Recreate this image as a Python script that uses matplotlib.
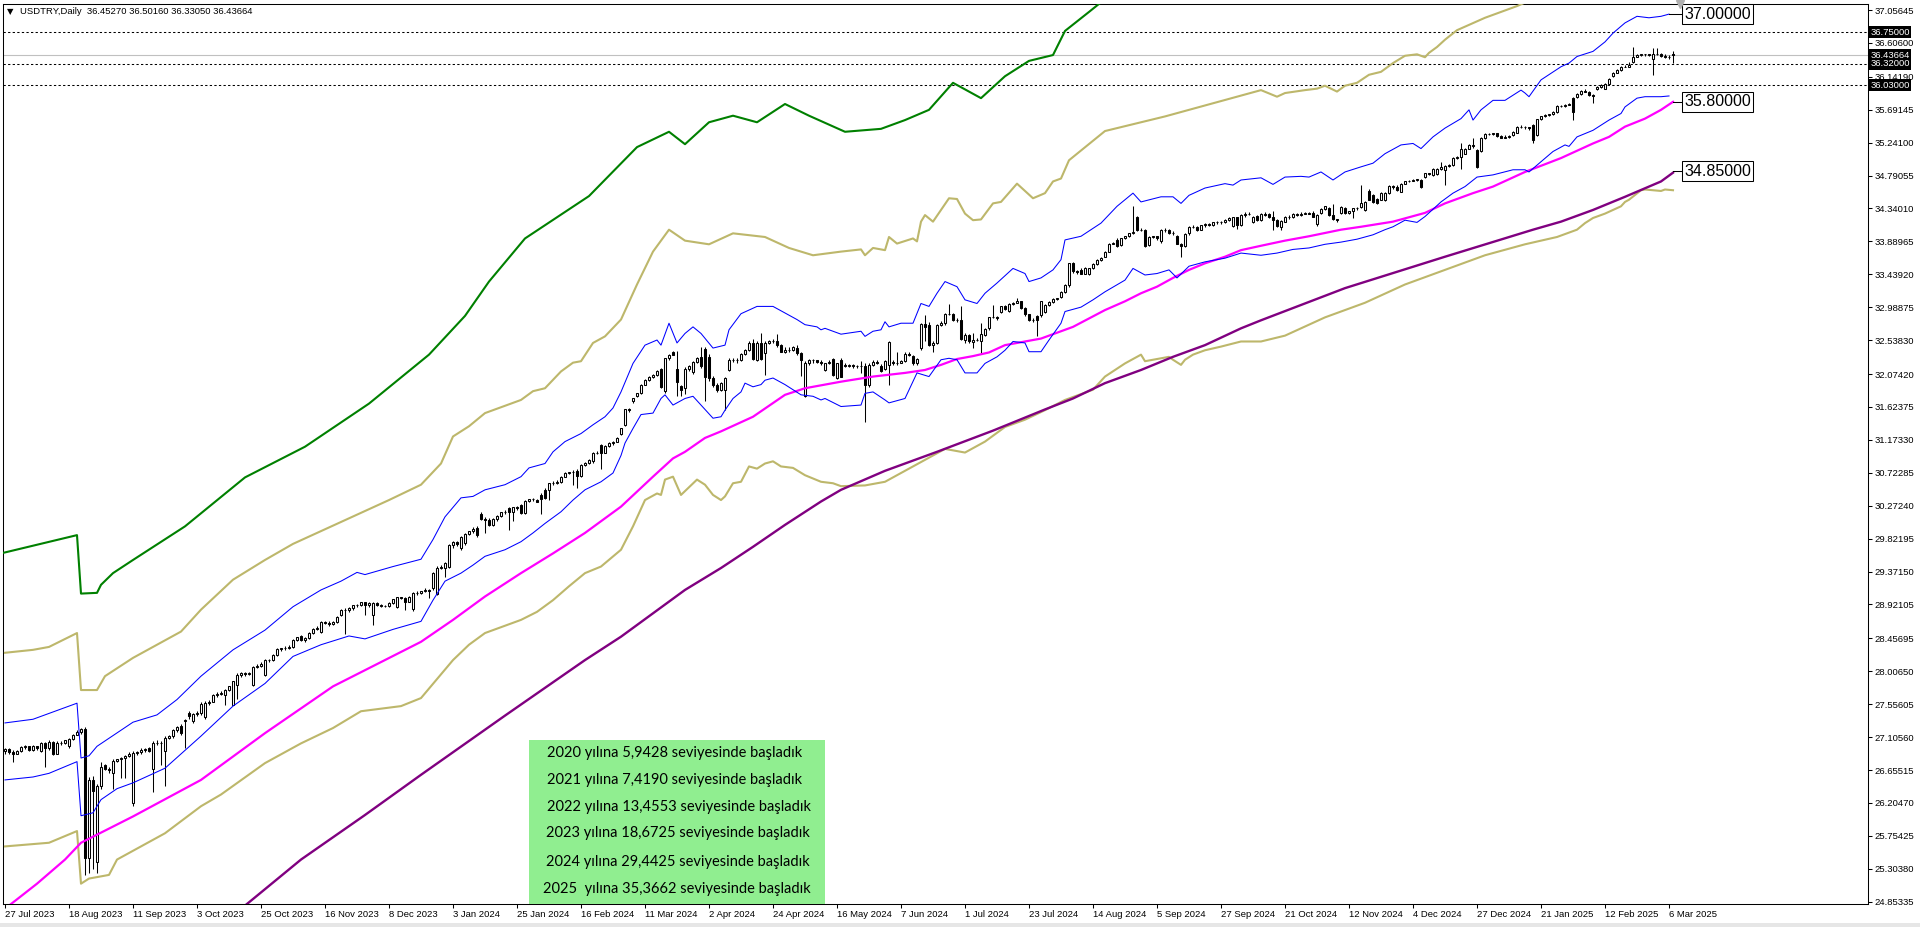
import numpy as np
import matplotlib.pyplot as plt
from matplotlib import font_manager as fm
from matplotlib.transforms import blended_transform_factory

# USDTRY gunluk mumlar: bar 0 = 27 Tem 2023, son bar = 11 Mar 2025
opens = [
    26.92, 26.94, 26.90, 26.88, 26.91, 26.97, 26.98, 26.93, 26.98, 26.92,
    27.02, 26.95, 27.04, 26.88, 27.03, 27.02, 26.98, 27.08, 27.14, 27.18,
    27.22, 25.45, 26.52, 25.40, 26.43, 26.72, 26.67, 26.62, 26.78, 26.80,
    26.82, 26.85, 26.20, 26.89, 26.90, 26.93, 26.96, 26.67, 27.03, 27.02,
    26.92, 27.10, 27.12, 27.20, 27.26, 27.32, 27.44, 27.32, 27.42, 27.43,
    27.38, 27.57, 27.59, 27.68, 27.70, 27.68, 27.75, 27.55, 27.82, 27.95,
    27.98, 27.97, 27.82, 28.07, 28.08, 27.96, 28.16, 28.16, 28.23, 28.31,
    28.32, 28.33, 28.34, 28.43, 28.49, 28.43, 28.46, 28.53, 28.59, 28.55,
    28.68, 28.67, 28.66, 28.68, 28.78, 28.85, 28.84, 28.87, 28.91, 28.91,
    28.95, 28.91, 28.78, 28.94, 28.91, 28.90, 28.90, 28.94, 28.89, 29.02,
    29.01, 28.96, 28.86, 29.08,
    29.08, 29.11, 29.12, 29.14, 29.07, 29.42, 29.42, 29.44, 29.73, 29.78,
    29.69, 29.76, 29.89, 29.92, 29.97, 30.16, 30.09, 30.08, 30.01, 30.09,
    30.13, 30.18, 30.24, 30.18, 30.25, 30.28, 30.17, 30.34, 30.36, 30.35,
    30.42, 30.49, 30.49, 30.58, 30.58, 30.60, 30.67, 30.72, 30.73, 30.75,
    30.68, 30.83, 30.86, 30.88, 31.00, 31.10, 31.00, 31.09, 31.13, 31.15,
    31.26, 31.38, 31.59, 31.70, 31.77, 31.81, 31.93, 31.99, 32.04, 32.06,
    32.14, 31.84, 32.29, 32.37, 32.15, 31.91, 31.88, 32.15, 32.10, 32.24,
    32.31, 32.42, 32.31, 32.02, 31.93, 31.86, 31.86, 32.13, 32.27, 32.27,
    32.26, 32.35, 32.41, 32.50, 32.27, 32.50, 32.36, 32.50, 32.52, 32.53,
    32.47, 32.38, 32.41, 32.40, 32.43, 32.36, 31.77, 32.22, 32.26, 32.26,
    32.24, 32.13, 32.22, 32.28, 32.02,
    32.27, 32.20, 32.19, 32.20, 32.18, 32.18, 32.19, 31.93, 32.20, 32.24,
    32.19, 32.15, 32.20, 32.24, 32.22, 32.23, 32.25, 32.35, 32.32, 32.22,
    32.43, 32.76, 32.75, 32.47, 32.50, 32.75, 32.77, 32.90, 32.89, 32.81,
    32.82, 32.54, 32.61, 32.51, 32.54, 32.52, 32.61, 32.70, 32.86, 32.85,
    32.93, 33.00, 32.94, 33.03, 33.05, 33.07, 32.98, 32.89, 32.81, 32.87,
    32.88, 32.93, 33.02, 33.06, 33.10, 33.13, 33.20, 33.29, 33.59, 33.48,
    33.50, 33.45, 33.45, 33.52, 33.58, 33.64, 33.68, 33.75, 33.86, 33.91,
    33.84, 33.93, 33.96, 34.00, 34.22, 34.05, 34.05, 33.84, 33.95, 33.96,
    33.89, 34.05, 34.04, 34.00, 33.96, 33.86, 33.83, 34.00, 34.09, 34.09,
    34.05, 34.11, 34.13, 34.11, 34.15, 34.16, 34.15, 34.18, 34.10, 34.22,
    34.11, 34.25, 34.27, 34.16, 34.24,
    34.18, 34.27, 34.27, 34.22, 34.18, 34.09, 34.16, 34.23, 34.22, 34.27,
    34.25, 34.27, 34.28, 34.28, 34.13, 34.28, 34.33, 34.34, 34.25, 34.19,
    34.28, 34.34, 34.28, 34.30, 34.34, 34.36, 34.32, 34.58, 34.52, 34.47,
    34.46, 34.46, 34.55, 34.65, 34.64, 34.57, 34.68, 34.71, 34.72, 34.73,
    34.73, 34.77, 34.82, 34.80, 34.81, 34.88, 34.87, 34.92, 34.93, 35.03,
    35.05, 35.09, 35.16, 35.21, 35.14, 35.13, 35.30, 35.36, 35.36, 35.37,
    35.33, 35.31, 35.32, 35.34, 35.38, 35.46, 35.46, 35.45, 35.48, 35.35,
    35.56, 35.60, 35.62, 35.63, 35.66, 35.74, 35.74, 35.76, 35.85, 35.86,
    35.91, 35.95, 35.94, 35.89, 35.97, 36.00, 35.98, 36.05, 36.15, 36.20,
    36.23, 36.28, 36.28, 36.34, 36.42, 36.44, 36.45, 36.45, 36.38, 36.46,
    36.46, 36.43, 36.42, 36.4527,
]
highs = [
    26.96, 26.95, 26.93, 26.93, 26.99, 27.00, 26.99, 27.00, 26.99, 27.04,
    27.04, 27.06, 27.05, 27.05, 27.05, 27.07, 27.10, 27.15, 27.20, 27.23,
    27.24, 26.56, 26.58, 26.46, 26.77, 26.74, 26.70, 26.80, 26.81, 26.84,
    26.86, 26.90, 26.92, 26.92, 26.95, 26.96, 26.97, 27.05, 27.06, 27.05,
    27.12, 27.14, 27.22, 27.26, 27.28, 27.36, 27.46, 27.44, 27.46, 27.58,
    27.60, 27.61, 27.70, 27.72, 27.73, 27.77, 27.81, 27.88, 27.98, 28.00,
    28.00, 28.00, 28.08, 28.10, 28.13, 28.18, 28.18, 28.25, 28.32, 28.33,
    28.35, 28.36, 28.45, 28.48, 28.51, 28.47, 28.55, 28.60, 28.62, 28.70,
    28.70, 28.69, 28.70, 28.77, 28.86, 28.87, 28.88, 28.92, 28.93, 28.96,
    28.96, 28.95, 28.95, 28.95, 28.93, 28.92, 28.95, 29.00, 29.03, 29.03,
    29.02, 29.04, 29.09, 29.10,
    29.11, 29.14, 29.13, 29.37, 29.45, 29.46, 29.50, 29.75, 29.79, 29.79,
    29.86, 29.90, 29.93, 29.98, 29.99, 30.18, 30.12, 30.10, 30.10, 30.14,
    30.19, 30.21, 30.26, 30.26, 30.27, 30.30, 30.35, 30.37, 30.38, 30.37,
    30.44, 30.52, 30.59, 30.61, 30.63, 30.68, 30.73, 30.74, 30.76, 30.77,
    30.84, 30.87, 30.91, 31.01, 31.02, 31.12, 31.10, 31.14, 31.16, 31.21,
    31.34, 31.60, 31.61, 31.75, 31.82, 31.94, 32.00, 32.05, 32.07, 32.13,
    32.16, 32.30, 32.35, 32.39, 32.39, 31.93, 32.17, 32.20, 32.25, 32.31,
    32.45, 32.45, 32.35, 32.05, 31.95, 31.97, 32.04, 32.30, 32.30, 32.29,
    32.36, 32.42, 32.52, 32.55, 32.52, 32.64, 32.52, 32.54, 32.56, 32.62,
    32.49, 32.44, 32.44, 32.46, 32.47, 32.38, 32.25, 32.28, 32.28, 32.27,
    32.26, 32.23, 32.26, 32.30, 32.23,
    32.29, 32.22, 32.21, 32.21, 32.20, 32.25, 32.22, 32.22, 32.26, 32.26,
    32.21, 32.26, 32.52, 32.27, 32.38, 32.27, 32.37, 32.37, 32.34, 32.30,
    32.77, 32.88, 32.78, 32.52, 32.76, 32.80, 32.91, 33.03, 32.91, 32.84,
    33.00, 32.63, 32.62, 32.64, 32.57, 32.77, 32.70, 32.86, 33.02, 32.87,
    33.01, 33.02, 33.04, 33.06, 33.11, 33.08, 32.99, 32.90, 32.84, 32.88,
    33.08, 33.03, 33.08, 33.11, 33.12, 33.21, 33.30, 33.60, 33.61, 33.50,
    33.52, 33.54, 33.53, 33.59, 33.65, 33.67, 33.76, 33.87, 33.88, 33.93,
    33.94, 33.97, 34.01, 34.37, 34.24, 34.07, 34.06, 33.96, 33.97, 33.97,
    34.06, 34.07, 34.06, 34.03, 33.98, 33.87, 34.00, 34.10, 34.11, 34.10,
    34.12, 34.14, 34.14, 34.16, 34.17, 34.17, 34.19, 34.22, 34.23, 34.23,
    34.27, 34.29, 34.29, 34.24, 34.25,
    34.28, 34.29, 34.28, 34.30, 34.19, 34.18, 34.24, 34.25, 34.28, 34.28,
    34.29, 34.29, 34.29, 34.30, 34.26, 34.34, 34.38, 34.36, 34.40, 34.20,
    34.37, 34.36, 34.31, 34.35, 34.36, 34.66, 34.44, 34.60, 34.54, 34.48,
    34.56, 34.56, 34.66, 34.66, 34.66, 34.69, 34.72, 34.73, 34.74, 34.75,
    34.75, 34.83, 34.83, 34.89, 34.89, 34.97, 34.93, 34.95, 35.04, 35.06,
    35.23, 35.17, 35.22, 35.30, 35.16, 35.32, 35.37, 35.38, 35.38, 35.38,
    35.34, 35.34, 35.35, 35.40, 35.47, 35.48, 35.47, 35.46, 35.50, 35.57,
    35.61, 35.63, 35.64, 35.67, 35.75, 35.76, 35.77, 35.78, 35.87, 35.92,
    35.96, 35.97, 35.95, 35.91, 36.01, 36.04, 36.06, 36.12, 36.21, 36.25,
    36.29, 36.30, 36.34, 36.55, 36.45, 36.46, 36.46, 36.46, 36.53, 36.53,
    36.47, 36.45, 36.44, 36.5016,
]
lows = [
    26.88, 26.88, 26.77, 26.87, 26.90, 26.94, 26.91, 26.92, 26.93, 26.90,
    26.69, 26.93, 26.86, 26.87, 27.00, 27.01, 26.96, 27.06, 27.13, 27.15,
    25.22, 25.25, 25.30, 25.25, 26.40, 26.65, 26.62, 26.39, 26.76, 26.55,
    26.55, 26.83, 26.16, 26.86, 26.88, 26.90, 26.90, 26.35, 27.00, 26.73,
    26.43, 27.08, 27.10, 27.18, 27.14, 26.96, 27.36, 27.30, 27.40, 27.41,
    27.36, 27.55, 27.58, 27.66, 27.68, 27.55, 27.73, 27.54, 27.63, 27.93,
    27.94, 27.95, 27.80, 28.05, 28.07, 27.94, 28.13, 28.15, 28.22, 28.29,
    28.30, 28.31, 28.33, 28.42, 28.42, 28.41, 28.45, 28.52, 28.57, 28.53,
    28.65, 28.63, 28.64, 28.67, 28.76, 28.52, 28.82, 28.85, 28.89, 28.90,
    28.78, 28.89, 28.64, 28.90, 28.88, 28.88, 28.89, 28.93, 28.87, 28.99,
    28.85, 28.95, 28.83, 29.05,
    29.06, 29.09, 29.01, 29.12, 29.05, 29.40, 29.30, 29.42, 29.70, 29.72,
    29.66, 29.74, 29.87, 29.90, 29.84, 30.08, 29.90, 29.99, 30.00, 30.07,
    30.12, 30.16, 29.94, 30.06, 30.22, 30.16, 30.16, 30.33, 30.34, 30.32,
    30.16, 30.37, 30.35, 30.56, 30.57, 30.59, 30.66, 30.70, 30.55, 30.51,
    30.67, 30.81, 30.85, 30.86, 30.98, 30.77, 30.99, 31.08, 31.11, 31.14,
    31.24, 31.37, 31.56, 31.68, 31.76, 31.80, 31.92, 31.98, 32.02, 32.05,
    31.88, 31.82, 32.27, 32.33, 31.77, 31.77, 31.80, 32.12, 32.08, 32.22,
    32.16, 31.70, 31.98, 31.90, 31.83, 31.84, 31.58, 32.11, 32.24, 32.22,
    32.25, 32.33, 32.39, 32.26, 32.25, 32.26, 32.06, 32.48, 32.50, 32.45,
    32.37, 32.36, 32.38, 32.39, 32.33, 32.05, 31.76, 32.20, 32.23, 32.22,
    32.20, 32.11, 32.21, 32.05, 32.00,
    32.03, 32.17, 32.17, 32.16, 32.16, 32.09, 31.42, 31.90, 32.18, 32.21,
    32.10, 32.13, 31.93, 32.20, 32.20, 32.22, 32.24, 32.32, 32.20, 32.20,
    32.40, 32.52, 32.46, 32.38, 32.48, 32.73, 32.75, 32.88, 32.80, 32.79,
    32.54, 32.50, 32.50, 32.43, 32.52, 32.36, 32.59, 32.68, 32.84, 32.82,
    32.91, 32.95, 32.92, 33.02, 33.04, 32.96, 32.87, 32.80, 32.79, 32.59,
    32.86, 32.91, 33.01, 33.05, 33.09, 33.12, 33.19, 33.27, 33.46, 33.45,
    33.44, 33.44, 33.43, 33.51, 33.57, 33.62, 33.67, 33.74, 33.85, 33.81,
    33.82, 33.92, 33.95, 33.99, 34.03, 34.03, 33.81, 33.82, 33.93, 33.91,
    33.87, 34.02, 33.99, 33.98, 33.85, 33.67, 33.81, 33.98, 34.07, 34.03,
    34.04, 34.09, 34.10, 34.10, 34.13, 34.13, 34.14, 34.17, 34.08, 34.06,
    34.10, 34.23, 34.25, 34.14, 34.17,
    34.17, 34.24, 34.21, 34.05, 34.08, 34.05, 34.15, 34.20, 34.21, 34.24,
    34.24, 34.26, 34.26, 34.22, 34.10, 34.27, 34.32, 34.24, 34.18, 34.16,
    34.27, 34.27, 34.27, 34.21, 34.32, 34.35, 34.30, 34.45, 34.42, 34.40,
    34.45, 34.44, 34.54, 34.61, 34.58, 34.56, 34.67, 34.70, 34.71, 34.72,
    34.62, 34.76, 34.80, 34.79, 34.80, 34.87, 34.66, 34.91, 34.92, 35.02,
    34.88, 35.08, 35.15, 35.17, 34.90, 35.11, 35.29, 35.34, 35.35, 35.32,
    35.30, 35.30, 35.31, 35.33, 35.37, 35.44, 35.43, 35.42, 35.23, 35.33,
    35.55, 35.59, 35.61, 35.62, 35.65, 35.73, 35.73, 35.75, 35.55, 35.85,
    35.90, 35.93, 35.88, 35.79, 35.96, 35.99, 35.97, 36.04, 36.14, 36.19,
    36.22, 36.27, 36.27, 36.33, 36.41, 36.43, 36.43, 36.43, 36.17, 36.44,
    36.41, 36.40, 36.39, 36.3305,
]
closes = [
    26.94, 26.90, 26.88, 26.91, 26.97, 26.98, 26.93, 26.98, 26.95, 27.02,
    26.95, 27.04, 26.88, 27.03, 27.02, 27.06, 27.08, 27.14, 27.18, 27.21,
    25.45, 26.52, 26.37, 26.43, 26.70, 26.67, 26.66, 26.78, 26.80, 26.82,
    26.85, 26.88, 26.89, 26.90, 26.93, 26.94, 26.91, 27.03, 27.02, 27.03,
    27.10, 27.12, 27.20, 27.24, 27.16, 27.34, 27.40, 27.42, 27.44, 27.56,
    27.57, 27.59, 27.68, 27.70, 27.71, 27.75, 27.80, 27.87, 27.95, 27.98,
    27.97, 27.98, 28.07, 28.08, 28.11, 28.16, 28.16, 28.23, 28.31, 28.32,
    28.33, 28.34, 28.43, 28.47, 28.43, 28.46, 28.53, 28.59, 28.60, 28.68,
    28.67, 28.66, 28.68, 28.75, 28.85, 28.84, 28.87, 28.91, 28.91, 28.95,
    28.91, 28.94, 28.94, 28.91, 28.90, 28.90, 28.94, 28.99, 29.02, 29.01,
    28.96, 29.03, 29.08, 29.08,
    29.11, 29.12, 29.10, 29.35, 29.42, 29.44, 29.49, 29.74, 29.78, 29.75,
    29.85, 29.89, 29.92, 29.96, 29.87, 30.09, 30.08, 30.01, 30.09, 30.13,
    30.18, 30.19, 30.18, 30.25, 30.24, 30.17, 30.34, 30.36, 30.36, 30.33,
    30.36, 30.38, 30.58, 30.58, 30.60, 30.67, 30.72, 30.73, 30.74, 30.68,
    30.83, 30.86, 30.90, 31.00, 31.00, 31.00, 31.09, 31.13, 31.15, 31.20,
    31.33, 31.59, 31.58, 31.74, 31.81, 31.93, 31.99, 32.04, 32.06, 32.12,
    31.90, 32.29, 32.34, 32.34, 31.96, 31.86, 32.15, 32.18, 32.24, 32.30,
    32.18, 32.04, 32.02, 31.93, 31.86, 31.95, 32.02, 32.27, 32.27, 32.26,
    32.35, 32.40, 32.50, 32.28, 32.50, 32.28, 32.50, 32.52, 32.53, 32.47,
    32.38, 32.41, 32.40, 32.44, 32.36, 32.27, 32.22, 32.26, 32.26, 32.24,
    32.23, 32.22, 32.24, 32.06, 32.22,
    32.04, 32.19, 32.20, 32.18, 32.18, 32.19, 31.93, 32.20, 32.24, 32.23,
    32.11, 32.25, 32.51, 32.22, 32.23, 32.25, 32.35, 32.34, 32.22, 32.28,
    32.76, 32.72, 32.47, 32.50, 32.75, 32.77, 32.90, 32.90, 32.81, 32.82,
    32.55, 32.61, 32.52, 32.54, 32.54, 32.62, 32.69, 32.86, 32.85, 32.84,
    33.00, 32.96, 33.03, 33.05, 33.07, 32.98, 32.89, 32.81, 32.81, 32.81,
    33.07, 33.02, 33.06, 33.10, 33.11, 33.20, 33.29, 33.59, 33.48, 33.47,
    33.45, 33.53, 33.52, 33.58, 33.64, 33.66, 33.75, 33.86, 33.87, 33.83,
    33.93, 33.96, 34.00, 34.02, 34.05, 34.05, 33.83, 33.95, 33.96, 33.93,
    34.05, 34.05, 34.00, 34.01, 33.86, 33.83, 33.99, 34.09, 34.09, 34.05,
    34.11, 34.13, 34.11, 34.15, 34.16, 34.15, 34.18, 34.21, 34.22, 34.11,
    34.25, 34.27, 34.27, 34.23, 34.18,
    34.27, 34.25, 34.22, 34.18, 34.10, 34.17, 34.23, 34.22, 34.27, 34.25,
    34.27, 34.28, 34.27, 34.23, 34.25, 34.33, 34.37, 34.25, 34.19, 34.18,
    34.36, 34.28, 34.30, 34.34, 34.34, 34.41, 34.43, 34.46, 34.43, 34.41,
    34.55, 34.55, 34.65, 34.63, 34.59, 34.68, 34.71, 34.72, 34.73, 34.74,
    34.63, 34.82, 34.81, 34.88, 34.88, 34.91, 34.92, 34.93, 35.03, 35.05,
    35.16, 35.16, 35.21, 35.19, 34.91, 35.31, 35.36, 35.36, 35.37, 35.33,
    35.31, 35.32, 35.33, 35.39, 35.46, 35.46, 35.45, 35.44, 35.28, 35.56,
    35.60, 35.62, 35.63, 35.66, 35.74, 35.74, 35.76, 35.77, 35.66, 35.91,
    35.95, 35.94, 35.89, 35.88, 36.00, 36.03, 36.05, 36.11, 36.20, 36.24,
    36.28, 36.28, 36.31, 36.42, 36.44, 36.45, 36.45, 36.44, 36.46, 36.46,
    36.43, 36.42, 36.41, 36.43664,
]

# gosterge cizgileri: (bar no, deger)
bb_upper = [
    (0, 27.30), (7, 27.35), (18, 27.57), (19, 26.82), (21, 26.85), (23, 26.98), (32, 27.31),
    (38, 27.41), (43, 27.62), (49, 27.94), (57, 28.30), (65, 28.57), (72, 28.89), (79, 29.12),
    (84, 29.24), (88, 29.36), (90, 29.33), (97, 29.44), (104, 29.54), (107, 29.81), (110, 30.12),
    (114, 30.38), (117, 30.40), (120, 30.49), (125, 30.56), (129, 30.67), (131, 30.79), (135, 30.85),
    (137, 31.01), (140, 31.15), (144, 31.26), (147, 31.38), (150, 31.49), (152, 31.61), (154, 31.83),
    (157, 32.22), (160, 32.47), (163, 32.54), (164, 32.47), (166, 32.77), (168, 32.50), (170, 32.63),
    (172, 32.72), (174, 32.63), (177, 32.43), (180, 32.47), (181, 32.68), (184, 32.90), (188, 33.00),
    (192, 33.00), (196, 32.88), (198, 32.82), (200, 32.75), (203, 32.72), (204, 32.68), (205, 32.70),
    (209, 32.62), (214, 32.66), (215, 32.59), (217, 32.66), (219, 32.68), (220, 32.79), (221, 32.72),
    (224, 32.77), (227, 32.77), (229, 33.04), (231, 33.00), (233, 33.18), (235, 33.34), (238, 33.27),
    (240, 33.09), (243, 33.04), (245, 33.18), (248, 33.32), (252, 33.52), (255, 33.45), (256, 33.34),
    (259, 33.39), (262, 33.50), (264, 33.64), (265, 33.91), (269, 33.96), (274, 34.14), (278, 34.37),
    (282, 34.55), (284, 34.43), (289, 34.50), (292, 34.50), (294, 34.41), (296, 34.52), (300, 34.62),
    (305, 34.68), (307, 34.66), (309, 34.73), (314, 34.76), (317, 34.67), (320, 34.77), (324, 34.78),
    (326, 34.77), (329, 34.84), (332, 34.73), (335, 34.84), (339, 34.91), (342, 34.96), (345, 35.09),
    (349, 35.21), (352, 35.23), (354, 35.16), (357, 35.32), (360, 35.44), (364, 35.57), (366, 35.69),
    (367, 35.55), (369, 35.69), (372, 35.82), (375, 35.82), (379, 35.96), (380, 35.92), (381, 35.87),
    (384, 36.10), (389, 36.28), (391, 36.33), (393, 36.42), (397, 36.49), (400, 36.62), (402, 36.74),
    (405, 36.88), (408, 36.97), (411, 36.95), (414, 36.97), (416, 37.00),
]
bb_lower = [
    (0, 26.52), (7, 26.56), (11, 26.61), (18, 26.77), (19, 26.03), (22, 26.07), (24, 26.25),
    (28, 26.40), (32, 26.48), (40, 26.68), (49, 27.12), (57, 27.53), (65, 27.84), (72, 28.21),
    (79, 28.37), (86, 28.49), (90, 28.45), (97, 28.58), (104, 28.69), (107, 28.98), (110, 29.24),
    (114, 29.35), (117, 29.46), (120, 29.58), (125, 29.67), (129, 29.78), (132, 29.90), (135, 30.03),
    (139, 30.19), (142, 30.35), (145, 30.49), (149, 30.60), (152, 30.72), (154, 30.96), (155, 31.13),
    (157, 31.33), (159, 31.52), (162, 31.54), (164, 31.74), (165, 31.79), (167, 31.65), (170, 31.74),
    (172, 31.77), (174, 31.65), (177, 31.47), (179, 31.49), (180, 31.58), (182, 31.74), (184, 31.83),
    (185, 31.95), (187, 31.90), (189, 31.93), (190, 31.99), (192, 32.02), (195, 31.93), (199, 31.79),
    (202, 31.77), (204, 31.72), (205, 31.74), (209, 31.63), (214, 31.65), (215, 31.81), (217, 31.83),
    (220, 31.72), (221, 31.68), (225, 31.74), (228, 32.09), (231, 32.04), (234, 32.27), (236, 32.29),
    (238, 32.27), (240, 32.09), (243, 32.09), (245, 32.22), (248, 32.31), (250, 32.40), (252, 32.52),
    (255, 32.50), (256, 32.38), (259, 32.38), (261, 32.54), (264, 32.77), (265, 32.93), (269, 32.99),
    (272, 33.09), (275, 33.20), (280, 33.36), (282, 33.52), (285, 33.43), (288, 33.45), (291, 33.50),
    (293, 33.39), (296, 33.55), (300, 33.61), (305, 33.66), (309, 33.73), (314, 33.70), (318, 33.73),
    (322, 33.78), (326, 33.80), (330, 33.85), (334, 33.88), (338, 33.92), (342, 33.98), (345, 34.05),
    (347, 34.09), (350, 34.18), (353, 34.15), (355, 34.23), (359, 34.43), (362, 34.55), (365, 34.64),
    (368, 34.77), (372, 34.80), (377, 34.87), (380, 34.87), (381, 34.84), (384, 34.98), (387, 35.12),
    (390, 35.21), (391, 35.19), (393, 35.32), (397, 35.41), (401, 35.55), (404, 35.64), (405, 35.73),
    (408, 35.85), (410, 35.87), (414, 35.87), (416, 35.88),
]
ma_pink = [
    (1, 24.80), (8, 25.10), (15, 25.43), (19, 25.66), (32, 26.02), (49, 26.52), (65, 27.16),
    (82, 27.80), (104, 28.41), (112, 28.71), (120, 29.03), (129, 29.35), (137, 29.62), (145, 29.90),
    (154, 30.26), (162, 30.67), (167, 30.92), (170, 31.01), (175, 31.20), (179, 31.29), (187, 31.49),
    (195, 31.79), (200, 31.88), (209, 31.97), (217, 32.04), (225, 32.09), (230, 32.13), (234, 32.20),
    (238, 32.28), (242, 32.32), (246, 32.37), (250, 32.47), (255, 32.52), (259, 32.56), (263, 32.64),
    (267, 32.72), (275, 32.95), (280, 33.07), (284, 33.18), (288, 33.27), (292, 33.39), (296, 33.50),
    (300, 33.59), (305, 33.68), (309, 33.77), (314, 33.83), (320, 33.90), (326, 33.96), (334, 34.05),
    (339, 34.09), (347, 34.16), (355, 34.28), (360, 34.41), (367, 34.55), (372, 34.64), (380, 34.84),
    (389, 35.03), (397, 35.23), (401, 35.32), (405, 35.46), (410, 35.57), (414, 35.69), (417, 35.80),
]
ma_purple = [
    (55, 24.58), (60, 24.80), (74, 25.43), (90, 26.04), (104, 26.59), (125, 27.40), (145, 28.16),
    (154, 28.48), (162, 28.80), (170, 29.12), (179, 29.42), (187, 29.71), (195, 30.01), (204, 30.33),
    (209, 30.49), (220, 30.75), (233, 31.01), (247, 31.30), (260, 31.59), (267, 31.74), (275, 31.95),
    (284, 32.13), (292, 32.31), (300, 32.47), (309, 32.70), (314, 32.81), (335, 33.25), (360, 33.68),
    (382, 34.05), (389, 34.16), (397, 34.32), (405, 34.50), (414, 34.71), (417, 34.83),
]
env_upper = [
    (0, 28.26), (7, 28.30), (11, 28.34), (18, 28.53), (19, 27.75), (23, 27.75), (25, 27.94),
    (32, 28.19), (44, 28.55), (49, 28.85), (57, 29.26), (65, 29.53), (72, 29.75), (80, 29.95),
    (88, 30.15), (96, 30.35), (104, 30.56), (109, 30.85), (112, 31.22), (116, 31.36), (120, 31.54),
    (129, 31.72), (132, 31.84), (135, 31.88), (139, 32.11), (142, 32.23), (144, 32.25), (147, 32.50),
    (150, 32.59), (154, 32.82), (158, 33.30), (162, 33.75), (166, 34.05), (170, 33.90), (176, 33.85),
    (182, 34.00), (190, 33.95), (196, 33.80), (202, 33.70), (209, 33.75), (214, 33.78), (215, 33.70),
    (217, 33.80), (220, 33.77), (221, 33.95), (223, 33.86), (227, 33.93), (228, 33.89), (229, 34.16),
    (230, 34.25), (232, 34.16), (236, 34.48), (238, 34.47), (240, 34.27), (242, 34.18), (244, 34.19),
    (247, 34.41), (249, 34.43), (253, 34.68), (257, 34.48), (260, 34.55), (262, 34.71), (264, 34.75),
    (266, 35.00), (275, 35.40), (290, 35.60), (300, 35.75), (314, 35.96), (318, 35.87), (320, 35.92),
    (325, 35.96), (328, 35.98), (330, 36.02), (333, 35.94), (335, 36.02), (338, 36.06), (341, 36.17),
    (344, 36.21), (347, 36.33), (350, 36.43), (353, 36.45), (355, 36.41), (356, 36.47), (358, 36.55),
    (360, 36.65), (363, 36.78), (370, 36.95), (378, 37.11), (390, 37.40), (417, 37.80),
]
env_lower = [
    (0, 25.61), (11, 25.66), (18, 25.82), (19, 25.10), (21, 25.17), (26, 25.22), (28, 25.43),
    (40, 25.79), (49, 26.16), (54, 26.32), (65, 26.75), (74, 27.02), (82, 27.23), (89, 27.46),
    (99, 27.53), (104, 27.64), (112, 28.16), (116, 28.37), (120, 28.53), (129, 28.71), (133, 28.82),
    (137, 28.98), (141, 29.17), (145, 29.35), (149, 29.44), (154, 29.67), (157, 29.99), (160, 30.35),
    (163, 30.44), (164, 30.42), (165, 30.63), (167, 30.67), (169, 30.42), (173, 30.63), (175, 30.56),
    (177, 30.42), (179, 30.35), (180, 30.40), (182, 30.58), (184, 30.60), (186, 30.81), (188, 30.78),
    (190, 30.85), (192, 30.88), (194, 30.81), (197, 30.79), (200, 30.69), (204, 30.60), (207, 30.58),
    (209, 30.54), (215, 30.55), (220, 30.60), (225, 30.75), (230, 30.90), (235, 31.05), (240, 31.00),
    (245, 31.15), (250, 31.35), (255, 31.45), (260, 31.58), (265, 31.72), (272, 31.86), (275, 32.04),
    (280, 32.22), (284, 32.34), (285, 32.25), (289, 32.29), (291, 32.31), (292, 32.27), (294, 32.20),
    (295, 32.27), (297, 32.34), (300, 32.40), (304, 32.45), (309, 32.52), (314, 32.52), (320, 32.60),
    (330, 32.85), (340, 33.05), (350, 33.30), (360, 33.50), (370, 33.70), (380, 33.85), (388, 33.95),
    (393, 34.05), (395, 34.14), (397, 34.21), (400, 34.27), (404, 34.37), (405, 34.43), (406, 34.46),
    (409, 34.59), (410, 34.60), (414, 34.58), (415, 34.60), (417, 34.59),
]
green_line = [
    (-1, 29.62), (18, 29.87), (19, 29.07), (23, 29.08), (24, 29.19), (27, 29.35), (32, 29.53),
    (45, 29.99), (60, 30.66), (75, 31.08), (91, 31.67), (106, 32.34), (115, 32.87), (121, 33.34),
    (130, 33.93), (146, 34.51), (158, 35.18), (166, 35.39), (170, 35.22), (176, 35.52), (182, 35.61),
    (188, 35.52), (195, 35.77), (201, 35.61), (210, 35.39), (219, 35.43), (225, 35.55), (231, 35.69),
    (237, 36.06), (244, 35.85), (250, 36.15), (256, 36.36), (262, 36.44), (265, 36.77), (271, 37.03),
    (276, 37.25), (285, 37.60),
]

xtick_labels = [
    '27 Jul 2023', '18 Aug 2023', '11 Sep 2023', '3 Oct 2023', '25 Oct 2023', '16 Nov 2023',
    '8 Dec 2023', '3 Jan 2024', '25 Jan 2024', '16 Feb 2024', '11 Mar 2024', '2 Apr 2024',
    '24 Apr 2024', '16 May 2024', '7 Jun 2024', '1 Jul 2024', '23 Jul 2024', '14 Aug 2024',
    '5 Sep 2024', '27 Sep 2024', '21 Oct 2024', '12 Nov 2024', '4 Dec 2024', '27 Dec 2024',
    '21 Jan 2025', '12 Feb 2025', '6 Mar 2025',
]
bars_per_label = 16
ytick_values = [
    37.05645, 36.60600, 36.14190, 35.69145, 35.24100, 34.79055, 34.34010, 33.88965, 33.43920,
    32.98875, 32.53830, 32.07420, 31.62375, 31.17330, 30.72285, 30.27240, 29.82195, 29.37150,
    28.92105, 28.45695, 28.00650, 27.55605, 27.10560, 26.65515, 26.20470, 25.75425, 25.30380,
    24.85335,
]
dashed_levels = [36.75, 36.32, 36.03]
target_levels = [37.00, 35.80, 34.85]
bid_price = 36.43664
header = 'USDTRY,Daily  36.45270 36.50160 36.33050 36.43664'
notes = [
    '2020 yılına 5,9428 seviyesinde başladık',
    '2021 yılına 7,4190 seviyesinde başladık',
    '2022 yılına 13,4553 seviyesinde başladık',
    '2023 yılına 18,6725 seviyesinde başladık',
    '2024 yılına 29,4425 seviyesinde başladık',
    '2025  yılına 35,3662 seviyesinde başladık',
]

# ---------------------------------------------------------------
names = {f.name for f in fm.fontManager.ttflist}
if 'Liberation Sans Narrow' in names:
    small_font, small_size, tag_size = 'Liberation Sans Narrow', 8, 13.5
else:
    small_font, small_size, tag_size = 'Liberation Sans', 6.8, 11.5
note_font = 'Lato' if 'Lato' in names else 'DejaVu Sans'

W, H = 1920, 927
L, R, T, B = 3, 1868, 4, 904          # grafik cercevesi (piksel)
ppu = (901.7 - 10) / (37.05645 - 24.85335)   # fiyat birimi basina piksel

fig = plt.figure(figsize=(W / 100, H / 100), dpi=100, facecolor='white')
ax = fig.add_axes([L / W, 1 - B / H, (R - L) / W, (B - T) / H])
ax.set_xlim((L - 5) / 4, (R - 5) / 4)
ax.set_ylim(24.85335 - (B - 901.7) / ppu, 37.05645 + (10 - T) / ppu)
for s in ax.spines.values():
    s.set_linewidth(0.75)
    s.set_color('black')

# yatay seviyeler
ax.axhline(bid_price, color='#c0c0c0', lw=0.8, zorder=1)
for lv in dashed_levels:
    ax.axhline(lv, color='black', lw=0.75, linestyle=(0, (2.2, 2.2)), zorder=2)

# mumlar
o = np.array(opens); h = np.array(highs); l = np.array(lows); c = np.array(closes)
n = min(len(o), len(h), len(l), len(c))
o, h, l, c = o[:n], h[:n], l[:n], c[:n]
x = np.arange(n)
hi = np.maximum(h, np.maximum(o, c))
lo = np.minimum(l, np.minimum(o, c))
ax.vlines(x, lo, hi, color='black', lw=0.75, zorder=4)
up = c >= o
ax.bar(x, np.abs(c - o), bottom=np.minimum(o, c), width=0.5,
       color=np.where(up, 'white', 'black'), edgecolor='black', linewidth=0.75, zorder=5)

# gostergeler
def draw(points, color, lw):
    xs, ys = zip(*points)
    ax.plot(xs, ys, color=color, lw=lw, zorder=6, solid_joinstyle='round')

draw(env_upper, '#bdb76b', 1.5)
draw(env_lower, '#bdb76b', 1.5)
draw(green_line, '#008000', 1.5)
draw(ma_purple, '#800080', 1.7)
draw(ma_pink, '#ff00ff', 1.6)
draw(bb_upper, '#0000ff', 0.75)
draw(bb_lower, '#0000ff', 0.75)

# hedef etiketleri
last_x = {37.00: bb_upper[-1][0], 35.80: ma_pink[-1][0], 34.85: ma_purple[-1][0]}
box_x = (1683 - 5) / 4
for lv in target_levels:
    ax.plot([last_x[lv], box_x], [lv, lv], color='black', lw=0.75, zorder=7, clip_on=False)
    ax.text(box_x + 0.3, lv, '%.5f' % lv, ha='left', va='center', fontsize=tag_size, family=small_font,
            zorder=8, clip_on=False,
            bbox=dict(boxstyle='square,pad=0.15', fc='white', ec='black', lw=0.75))

# kaydirma isareti
ax.plot([(1680 - 5) / 4], [ax.get_ylim()[1]], marker='v', ms=6, color='#b0b0b0',
        mec='#b0b0b0', clip_on=False, zorder=9)

# eksenler
ax.yaxis.tick_right()
ax.set_yticks(ytick_values)
ax.set_yticklabels(['%.5f' % v for v in ytick_values])
ax.set_xticks([k * bars_per_label for k in range(len(xtick_labels))])
ax.set_xticklabels(xtick_labels)
ax.tick_params(axis='both', direction='out', length=3, width=0.75, labelsize=small_size, pad=1.5)
for lab in ax.get_xticklabels():
    lab.set_horizontalalignment('left')
    lab.set_fontfamily(small_font)
for lab in ax.get_yticklabels():
    lab.set_fontfamily(small_font)

# eksendeki fiyat kutulari
tr = blended_transform_factory(ax.transAxes, ax.transData)
for lv, txt in [(36.75, '36.75000'), (bid_price, '36.43664'), (36.32, '36.32000'), (36.03, '36.03000')]:
    ax.text(1 + 2.5 / (R - L), lv, txt, transform=tr, ha='left', va='center', color='white',
            fontsize=small_size, family=small_font, zorder=10, clip_on=False,
            bbox=dict(boxstyle='square,pad=0.15', fc='black', ec='none'))

# not kutusu
def ax_frac(px, py):
    return (px - L) / (R - L), (B - py) / (B - T)

bx0, by0 = ax_frac(529, 904)
bx1, by1 = ax_frac(825, 740)
ax.add_patch(plt.Rectangle((bx0, by0), bx1 - bx0, by1 - by0, transform=ax.transAxes,
                           facecolor='#90ee90', edgecolor='none', zorder=8))
note_y = [753, 780, 807, 833, 862, 889]
note_x = [547, 547, 547, 546, 546, 543]
for txt, px, py in zip(notes, note_x, note_y):
    fx, fy = ax_frac(px, py)
    ax.text(fx, fy, txt, transform=ax.transAxes, ha='left', va='center', fontsize=10.5,
            family=note_font, color='black', zorder=9)

# ust bilgi satiri
fig.text(7 / W, 1 - 12 / H, '▼', fontsize=6, family='DejaVu Sans', va='center', ha='left')
fig.text(20 / W, 1 - 12 / H, header, fontsize=small_size, family=small_font, va='center', ha='left')

# pencere kenari
fig.patches.append(plt.Rectangle((0, 0), 1, 4 / H, transform=fig.transFigure,
                                 facecolor='#e6e6e6', edgecolor='none'))

fig.savefig('out.png', dpi=100, facecolor='white')
